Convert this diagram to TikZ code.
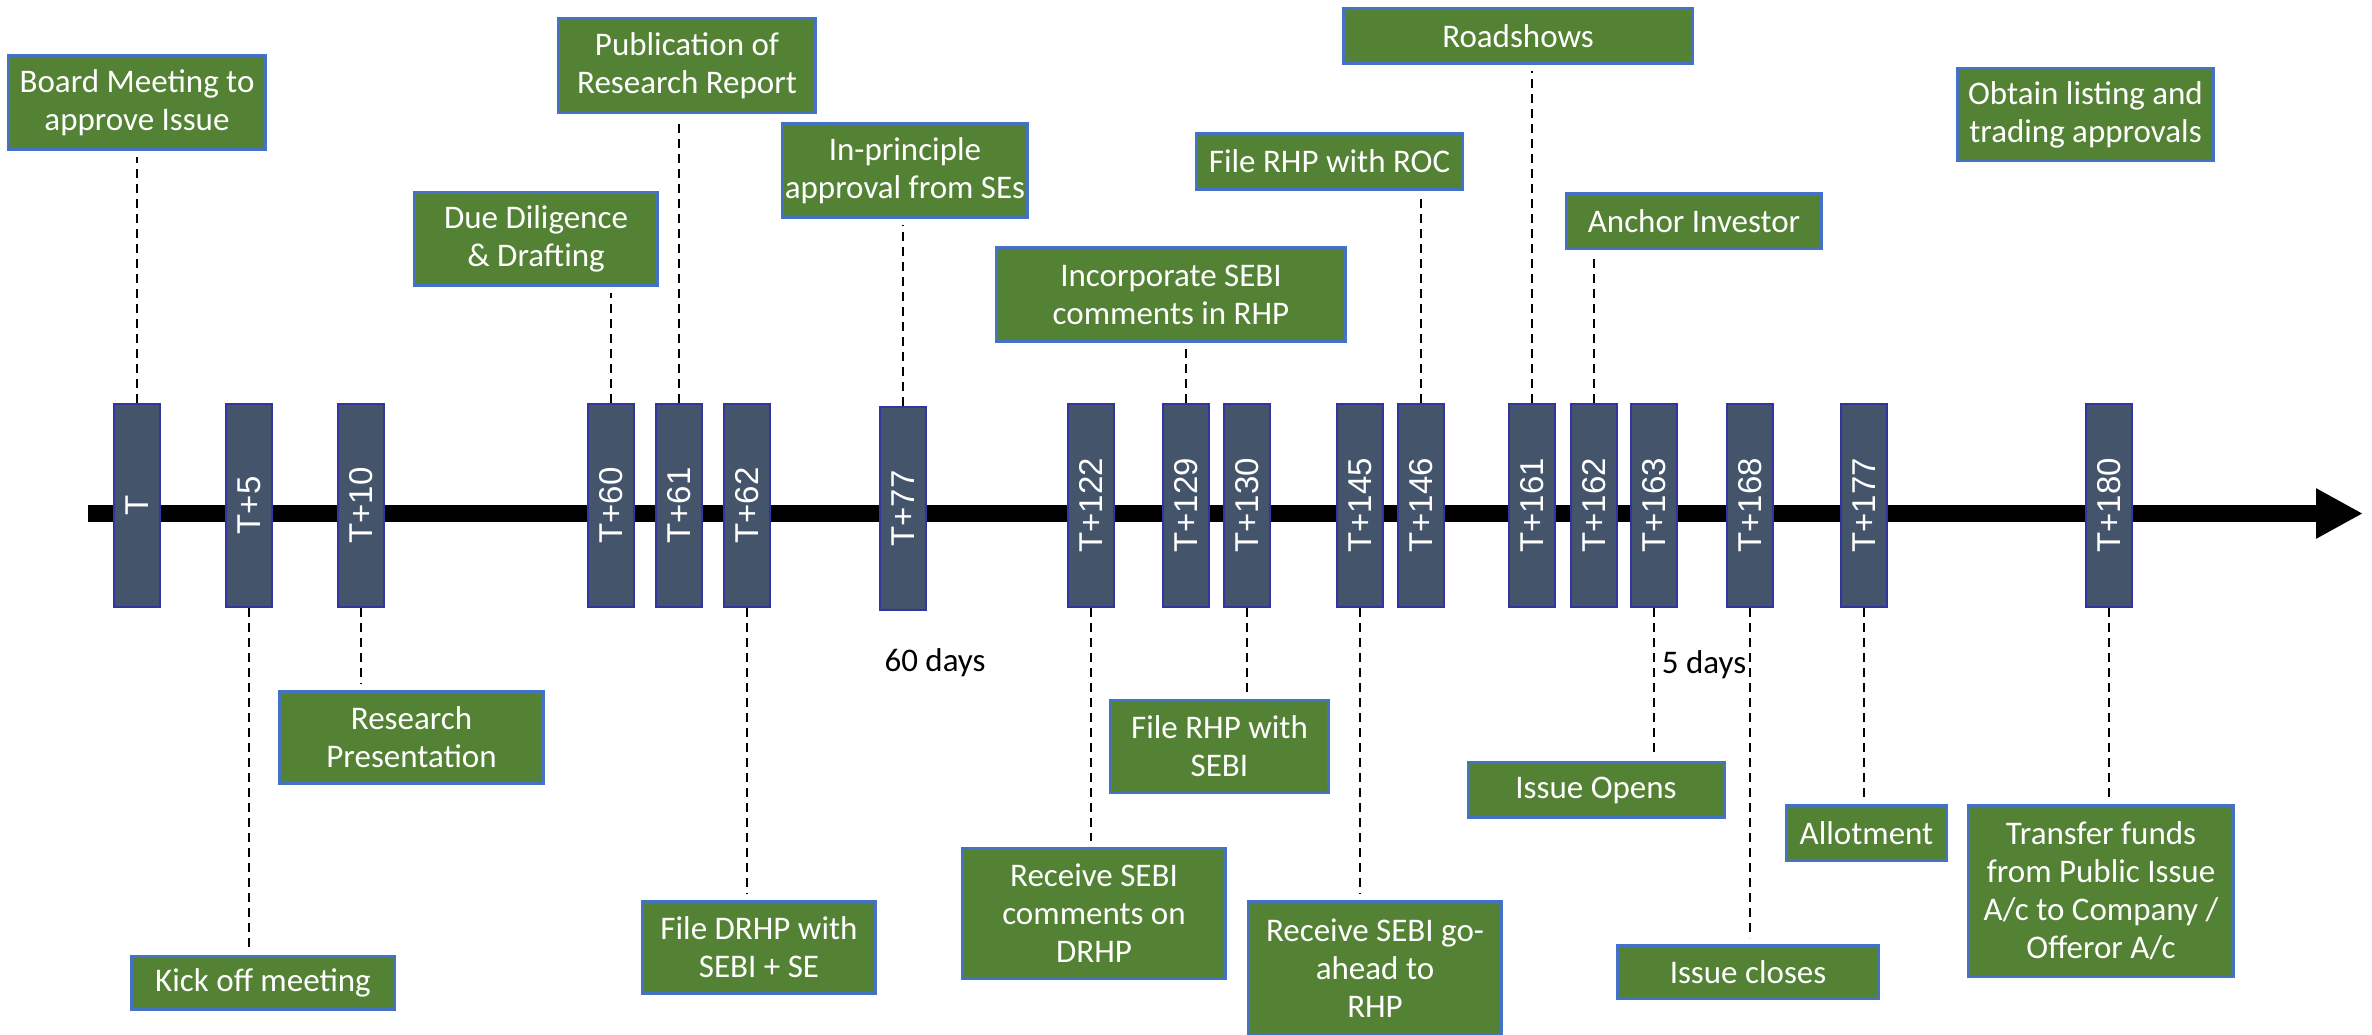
\documentclass[tikz,border=0pt]{standalone}
\usepackage{fontspec}
\setmainfont{Carlito}
\newfontfamily\datefont{Liberation Sans}
\usetikzlibrary{arrows.meta}

\definecolor{evgreen}{HTML}{548235}
\definecolor{evborder}{HTML}{4472C4}
\definecolor{dayfill}{HTML}{44546A}
\definecolor{dayborder}{HTML}{3434A0}

\tikzset{
  event/.style={draw=evborder, line width=3pt, fill=evgreen, text=white,
    font=\fontsize{33}{38}\selectfont, align=center, inner sep=0pt},
  daybox/.style={draw=dayborder, line width=2pt, fill=dayfill, text=white,
    rotate=90, minimum width=203pt, minimum height=46pt, inner sep=0pt,
    font=\datefont\fontsize{33}{38}\selectfont},
  conn/.style={draw=black, line width=2pt, dash pattern=on 9pt off 6pt},
  note/.style={text=black, font=\fontsize{33}{38}\selectfont, inner sep=0pt},
  axis/.style={line width=17pt, -{Triangle[length=47pt,width=47pt]}}
}

\begin{document}
\begin{tikzpicture}[x=1pt,y=-1pt]
\useasboundingbox (0,0) rectangle (2372,1034);
\clip (0,0) rectangle (2372,1034);

% time axis
\coordinate (axisstart) at (88,513.5);
\coordinate (axisend) at (2363,513.5);
\draw[axis] (axisstart) -- (axisend);

% day markers
\node[daybox] (d0)   at (137,505.5)  {T};
\node[daybox] (d5)   at (249,505.5)  {T+5};
\node[daybox] (d10)  at (361,505.5)  {T+10};
\node[daybox] (d60)  at (611,505.5)  {T+60};
\node[daybox] (d61)  at (679,505.5)  {T+61};
\node[daybox] (d62)  at (747,505.5)  {T+62};
\node[daybox] (d77)  at (903,508.5)  {T+77};
\node[daybox] (d122) at (1091,505.5) {T+122};
\node[daybox] (d129) at (1186,505.5) {T+129};
\node[daybox] (d130) at (1247,505.5) {T+130};
\node[daybox] (d145) at (1360,505.5) {T+145};
\node[daybox] (d146) at (1421,505.5) {T+146};
\node[daybox] (d161) at (1532,505.5) {T+161};
\node[daybox] (d162) at (1594,505.5) {T+162};
\node[daybox] (d163) at (1654,505.5) {T+163};
\node[daybox] (d168) at (1750,505.5) {T+168};
\node[daybox] (d177) at (1864,505.5) {T+177};
\node[daybox] (d180) at (2109,505.5) {T+180};

% events above the axis
\node[event, minimum width=257pt, minimum height=94pt] (g1) at (137,102.5) {Board Meeting to\\approve Issue};
\node[event, minimum width=257pt, minimum height=94pt] (g2) at (687,65.5) {Publication of\\Research Report};
\node[event, minimum width=243pt, minimum height=93pt] (g3) at (536,239) {Due Diligence\\\& Drafting};
\node[event, minimum width=245pt, minimum height=94pt] (g4) at (905,170.5) {In-principle\\approval from SEs};
\node[event, minimum width=349pt, minimum height=94pt] (g5) at (1171,294.5) {Incorporate SEBI\\comments in RHP};
\node[event, minimum width=266pt, minimum height=56pt] (g6) at (1329.5,161.5) {File RHP with ROC};
\node[event, minimum width=349pt, minimum height=55pt] (g7) at (1518,36) {Roadshows};
\node[event, minimum width=255pt, minimum height=55pt] (g8) at (1694,221) {Anchor Investor};
\node[event, minimum width=256pt, minimum height=92pt] (g9) at (2085.5,114.5) {Obtain listing and\\trading approvals};

% events below the axis
\node[event, minimum width=264pt, minimum height=92pt] (g10) at (411.5,737.5) {Research\\Presentation};
\node[event, minimum width=263pt, minimum height=53pt] (g11) at (263,983) {Kick off meeting};
\node[event, minimum width=233pt, minimum height=92pt] (g12) at (759,947.5) {File DRHP with\\SEBI + SE};
\node[event, minimum width=263pt, minimum height=130pt] (g13) at (1094,913.5) {Receive SEBI\\comments on\\DRHP};
\node[event, minimum width=218pt, minimum height=92pt] (g14) at (1219.5,746.5) {File RHP with\\SEBI};
\node[event, minimum width=253pt, minimum height=133pt] (g15) at (1375,968) {Receive SEBI go-\\ahead to\\RHP};
\node[event, minimum width=256pt, minimum height=55pt] (g16) at (1596,790) {Issue Opens};
\node[event, minimum width=261pt, minimum height=53pt] (g17) at (1748,972) {Issue closes};
\node[event, minimum width=160pt, minimum height=55pt] (g18) at (1866.5,833) {Allotment};
\node[event, minimum width=265pt, minimum height=171pt] (g19) at (2101,891) {Transfer funds\\from Public Issue\\A/c to Company /\\Offeror A/c};

% interval notes
\node[note] (n60) at (935,663) {60 days};
\node[note] (n5) at (1704,665) {5 days};

% connectors to events above
\draw[conn, shorten >=6pt] (d0.east)   -- (d0.east |- g1.south);
\draw[conn, shorten >=6pt] (d61.east)  -- (d61.east |- g2.south);
\draw[conn, shorten >=6pt] (d60.east)  -- (d60.east |- g3.south);
\draw[conn, shorten >=6pt] (d77.east)  -- (d77.east |- g4.south);
\draw[conn, shorten >=6pt] (d129.east) -- (d129.east |- g5.south);
\draw[conn, shorten >=6pt] (d146.east) -- (d146.east |- g6.south);
\draw[conn, shorten >=6pt] (d161.east) -- (d161.east |- g7.south);
\draw[conn, shorten >=6pt] (d162.east) -- (d162.east |- g8.south);

% connectors to events below
\draw[conn, shorten >=6pt] (d10.west)  -- (d10.west |- g10.north);
\draw[conn, shorten >=6pt] (d5.west)   -- (d5.west |- g11.north);
\draw[conn, shorten >=6pt] (d62.west)  -- (d62.west |- g12.north);
\draw[conn, shorten >=6pt] (d122.west) -- (d122.west |- g13.north);
\draw[conn, shorten >=6pt] (d130.west) -- (d130.west |- g14.north);
\draw[conn, shorten >=6pt] (d145.west) -- (d145.west |- g15.north);
\draw[conn, shorten >=6pt] (d163.west) -- (d163.west |- g16.north);
\draw[conn, shorten >=6pt] (d168.west) -- (d168.west |- g17.north);
\draw[conn, shorten >=6pt] (d177.west) -- (d177.west |- g18.north);
\draw[conn, shorten >=6pt] (d180.west) -- (d180.west |- g19.north);
\end{tikzpicture}
\end{document}
